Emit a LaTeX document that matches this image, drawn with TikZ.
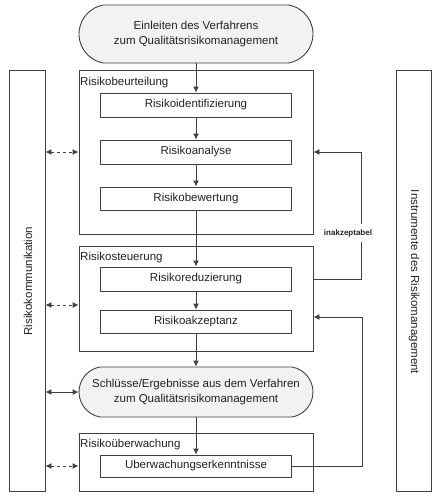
\documentclass[tikz,border=0pt]{standalone}
\usepackage{fontspec}
\setmainfont{Liberation Sans}
\usetikzlibrary{arrows.meta,shapes.misc,calc}
\definecolor{ln}{HTML}{404040}
\definecolor{tx}{HTML}{222222}
\definecolor{efill}{HTML}{F2F2F2}
\begin{document}
\begin{tikzpicture}[x=1pt,y=-1pt,
  every node/.style={text=tx,font=\fontsize{11.5}{15.5}\selectfont,inner sep=0pt},
  frame/.style={draw=ln,line width=0.9pt,rectangle},
  stepbox/.style={draw=ln,line width=0.9pt,rectangle,minimum width=191pt},
  oval/.style={draw=ln,line width=0.9pt,rounded rectangle,rounded rectangle arc length=160,fill=efill,minimum width=234pt,align=center},
  arr/.style={draw=ln,line width=0.9pt,-{Latex[length=6pt,width=6pt]}},
  darr/.style={draw=ln,line width=0.9pt,dashed,{Latex[length=6pt,width=6pt]}-{Latex[length=6pt,width=6pt]}},
  sarr/.style={draw=ln,line width=0.9pt,{Latex[length=6pt,width=6pt]}-{Latex[length=6pt,width=6pt]}},
  lbl/.style={anchor=west}]
\useasboundingbox (0,0) rectangle (440,501);
% side frames
\node[frame,minimum width=36pt,minimum height=421pt] (komm) at (27,280.5) {};
\node[rotate=90] (kommt) at (28,281) {Risikokommunikation};
\node[frame,minimum width=35pt,minimum height=421pt] (instr) at (413.5,280.5) {};
\node[rotate=-90] (instrt) at (414,282) {Instrumente des Risikomanagement};
% top oval
\node[oval,minimum height=58pt] (e1) at (196,34) {Einleiten des Verfahrens\\zum Qualitätsrisikomanagement};
% Risikobeurteilung
\node[frame,minimum width=234pt,minimum height=164pt] (beurt) at (196,152) {};
\node[lbl] (beurtl) at (80,83) {Risikobeurteilung};
\node[stepbox,minimum height=24pt] (ident) at (196,105) {Risikoidentifizierung};
\node[stepbox,minimum height=24pt] (analyse) at (196,152) {Risikoanalyse};
\node[stepbox,minimum height=23pt] (bewert) at (196,198.5) {Risikobewertung};
% Risikosteuerung
\node[frame,minimum width=234pt,minimum height=105pt] (steuer) at (196,298.5) {};
\node[lbl] (steuerl) at (80,258) {Risikosteuerung};
\node[stepbox,minimum height=24pt] (redu) at (196,279) {Risikoreduzierung};
\node[stepbox,minimum height=23pt] (akzept) at (196,321.5) {Risikoakzeptanz};
% second oval
\node[oval,minimum height=50pt] (e2) at (196,392) {Schlüsse/Ergebnisse aus dem Verfahren\\zum Qualitätsrisikomanagement};
% Risikoüberwachung
\node[frame,minimum width=234pt,minimum height=58pt] (ueberw) at (196,462) {};
\node[lbl] (ueberwl) at (80,445) {Risikoüberwachung};
\node[stepbox,minimum height=22pt] (erk) at (196,466) {Uberwachungserkenntnisse};
% main flow
\draw[arr] (e1.south) -- (ident.north);
\draw[arr] (ident.south) -- (analyse.north);
\draw[arr] (analyse.south) -- (bewert.north);
\draw[arr] (bewert.south) -- (redu.north);
\draw[arr] (redu.south) -- (akzept.north);
\draw[arr] (akzept.south) -- (e2.north);
\draw[arr] (e2.south) -- (erk.north);
% feedback loops
\coordinate (fb1) at ($(redu.center -| steuer.east)+(48,0)$);
\draw[arr] (redu.center -| steuer.east) -- (fb1) |- (analyse.center -| beurt.east);
\node[fill=white,font=\bfseries\fontsize{8}{9}\selectfont,inner ysep=5pt,inner xsep=1pt] (inak) at (348,233) {inakzeptabel};
\coordinate (fb2) at ($(erk.east)+(70,0)$);
\draw[arr] (erk.east) -- (fb2) |- ([yshift=4.5pt]akzept.center -| steuer.east);
% communication arrows
\draw[darr] (analyse.center -| komm.east) -- (analyse.center -| beurt.west);
\draw[darr] ([yshift=-6.5pt]steuer.center -| komm.east) -- ([yshift=-6.5pt]steuer.west);
\draw[sarr] (e2.west -| komm.east) -- (e2.west);
\draw[darr] (erk.center -| komm.east) -- (erk.center -| ueberw.west);
\end{tikzpicture}
\end{document}
